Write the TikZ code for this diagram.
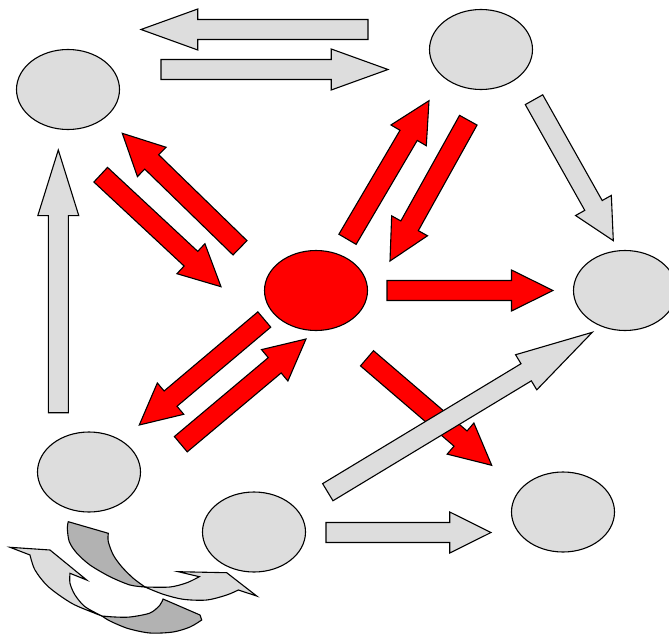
\documentclass[tikz,border=0pt]{standalone}
\usetikzlibrary{calc,shapes.geometric}
\definecolor{lightgr}{HTML}{DDDDDD}
\definecolor{darkgr}{HTML}{B2B2B2}
\definecolor{pptred}{HTML}{FF0000}
\newcommand\bashaft{10pt}
\newcommand\bahead{20.5pt}
\newcommand\blockarrow[3]{%
  \coordinate (ba-m) at ($(#2)!0.75!(#3)$);
  \draw[#1] ($(#2)!\bashaft!90:(#3)$) -- ($(ba-m)!\bashaft!90:(#3)$) -- ($(ba-m)!\bahead!90:(#3)$) -- (#3) -- ($(ba-m)!\bahead!-90:(#3)$) -- ($(ba-m)!\bashaft!-90:(#3)$) -- ($(#2)!\bashaft!-90:(#3)$) -- cycle;}
\begin{document}
\begin{tikzpicture}[x=1pt,y=-1pt,line width=1.1pt,
  ellgray/.style={ellipse,draw=black,fill=lightgr,minimum width=103pt,minimum height=80pt,inner sep=0pt},
  ellred/.style={ellgray,fill=pptred},
  grayarrow/.style={draw=black,fill=lightgr,line join=miter},
  redarrow/.style={draw=black,fill=pptred,line join=miter},
  curvelight/.style={draw=black,fill=lightgr,line join=miter},
  curvedark/.style={draw=black,fill=darkgr,line join=miter}]
\useasboundingbox (0,0) rectangle (669,634);
\clip (0,0) rectangle (669,634);
\fill[white] (0,0) rectangle (669,634);
% ellipses
\node[ellgray] (tl) at (68,89.5) {};
\node[ellgray] (tr) at (481,49.5) {};
\node[ellgray] (rt) at (625,290.5) {};
\node[ellred]  (ce) at (316,290.5) {};
\node[ellgray] (bl) at (89,472) {};
\node[ellgray] (bm) at (254,532) {};
\node[ellgray] (br) at (563,512) {};
% arrow end points
\coordinate (g1a) at (368,29.5);   \coordinate (g1b) at (141,29.5);
\coordinate (g2a) at (161,69.5);   \coordinate (g2b) at (388,69.5);
\coordinate (g3a) at (58.3,412.7); \coordinate (g3b) at (58.3,150);
\coordinate (g4a) at (534,99.7);   \coordinate (g4b) at (613.3,240.7);
\coordinate (g5a) at (327.8,492.2);\coordinate (g5b) at (592.3,332.3);
\coordinate (g6a) at (326,532.5);  \coordinate (g6b) at (491,532.5);
\coordinate (r1a) at (240,247.8);  \coordinate (r1b) at (122.3,133.3);
\coordinate (r2a) at (100.7,174.7);\coordinate (r2b) at (221,286.7);
\coordinate (r3a) at (347.5,239.3);\coordinate (r3b) at (429,100.7);
\coordinate (r4a) at (468.3,120.2);\coordinate (r4b) at (390,261);
\coordinate (r5a) at (387,290.5);  \coordinate (r5b) at (553,290.5);
\coordinate (r6a) at (264.3,319.5);\coordinate (r6b) at (139.3,425);
\coordinate (r7a) at (180.8,444.2);\coordinate (r7b) at (306,339);
\coordinate (r8a) at (367,358.3);  \coordinate (r8b) at (491.7,465.3);
% red arrows
\blockarrow{redarrow}{r1a}{r1b}
\blockarrow{redarrow}{r2a}{r2b}
\blockarrow{redarrow}{r3a}{r3b}
\blockarrow{redarrow}{r4a}{r4b}
\blockarrow{redarrow}{r5a}{r5b}
\blockarrow{redarrow}{r6a}{r6b}
\blockarrow{redarrow}{r7a}{r7b}
\blockarrow{redarrow}{r8a}{r8b}
% gray arrows
\blockarrow{grayarrow}{g1a}{g1b}
\blockarrow{grayarrow}{g2a}{g2b}
\blockarrow{grayarrow}{g3a}{g3b}
\blockarrow{grayarrow}{g4a}{g4b}
\blockarrow{grayarrow}{g5a}{g5b}
\blockarrow{grayarrow}{g6a}{g6b}
% curved arrows, bottom left
\draw[curvedark] (68.3,521.7) -- plot[smooth] coordinates {(108.3,533.3) (108.3,541.7) (113.3,555) (121.7,566.7) (133.3,578.3) (145,587)}
  -- plot[smooth] coordinates {(145,587) (130,585) (110,576.7) (90,565) (76.7,553) (69.3,541.7) (67.3,528) (68.3,521.7)} -- cycle;
\draw[curvelight] plot[smooth] coordinates {(145,587) (170,587) (187,582.7) (199.3,576.7)}
  -- (178.3,571.7) -- (226.7,572.7) -- (256.7,596) -- (238.3,590)
  -- plot[smooth] coordinates {(238.3,590) (226.7,595) (206.7,600) (183.3,599.3) (163.3,594.3) (145,587)} -- cycle;
\draw[curvelight] plot[smooth] coordinates {(102,616) (95,613.3) (71.7,603.3) (48.3,586.7) (35,570) (30,555)}
  -- (10,547.3) -- (50,550) -- (86.7,580) -- (70,573.3)
  -- plot[smooth] coordinates {(70,573.3) (70,583.3) (75,595) (85,606.7) (102,616)} -- cycle;
\draw[curvedark] plot[smooth] coordinates {(102,616) (115,617) (130,617) (150,613) (160,605) (163,599)}
  -- (200,615)
  -- plot[smooth] coordinates {(201.7,620) (190,627) (173,632) (150,633) (128,628.5) (110,621) (102,616)} -- cycle;
\end{tikzpicture}
\end{document}
